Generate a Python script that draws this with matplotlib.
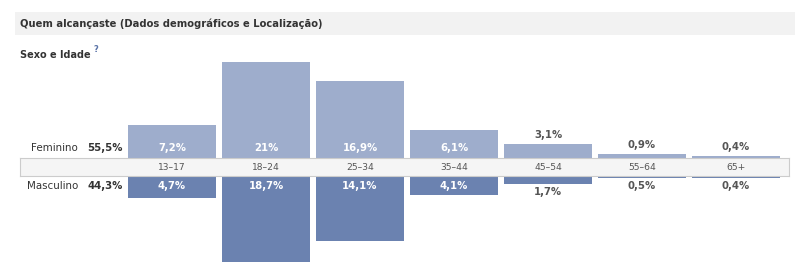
import matplotlib.pyplot as plt
from matplotlib.patches import Rectangle

# --- data ---
ages = ['13-17', '18-24', '25-34', '35-44', '45-54', '55-64', '65+']
female = [7.2, 21.0, 16.9, 6.1, 3.1, 0.9, 0.4]
male = [4.7, 18.7, 14.1, 4.1, 1.7, 0.5, 0.4]
female_total = '55,5%'
male_total = '44,3%'

F_COLOR = '#9eadcc'
M_COLOR = '#6b82b0'
TXT = '#333333'
LBL = '#555555'

W, H = 805, 279
fig = plt.figure(figsize=(W / 100, H / 100), dpi=100)
plt.rcParams['font.family'] = ['DejaVu Sans']


def fx(px):
    return px / W


def fy(py):
    return 1 - py / H


def pct(v):
    s = f'{v:.1f}'.replace('.', ',')
    if s.endswith(',0'):
        s = s[:-2]
    return s + '%'


# header band
fig.patches.append(Rectangle((fx(15), fy(35)), fx(795) - fx(15), fy(12) - fy(35),
                             transform=fig.transFigure, facecolor='#f2f2f2',
                             edgecolor='none', zorder=0))
fig.text(fx(20), fy(24), 'Quem alcançaste (Dados demográficos e Localização)',
         fontsize=7.2, fontweight='bold', color=TXT, va='center', ha='left')
fig.text(fx(20), fy(55), 'Sexo e Idade', fontsize=7.0, fontweight='bold',
         color=TXT, va='center', ha='left')
fig.text(fx(93), fy(49), '?', fontsize=6.0, fontweight='bold', color='#5b74a8',
         va='center', ha='left')

# geometry: 94 px per category, ~4.6 px per percent
step = 94.0
scale = 4.58
x_left = 125
band_top, band_bot = 158, 176
top_max, bot_max = 23, 20

ax_f = fig.add_axes([fx(x_left), fy(band_top), 7 * step / W, top_max * scale / H])
ax_m = fig.add_axes([fx(x_left), fy(band_bot + bot_max * scale), 7 * step / W,
                     bot_max * scale / H])
for ax in (ax_f, ax_m):
    ax.set_xlim(-0.5, 6.5)
    ax.axis('off')
ax_f.set_ylim(0, top_max)
ax_m.set_ylim(bot_max, 0)

xs = range(len(ages))
bw = 88 / step
ax_f.bar(xs, female, width=bw, color=F_COLOR, zorder=2)
ax_m.bar(xs, male, width=bw, color=M_COLOR, zorder=2)

inside_min = 4.0
off = 10 / scale
for i, v in enumerate(female):
    if v >= inside_min:
        ax_f.text(i, off, pct(v), ha='center', va='center', color='white',
                  fontsize=7.3, fontweight='bold', zorder=3)
    else:
        ax_f.text(i, v + 9 / scale, pct(v), ha='center', va='center', color=LBL,
                  fontsize=7.3, fontweight='bold', zorder=3)
for i, v in enumerate(male):
    if v >= inside_min:
        ax_m.text(i, off, pct(v), ha='center', va='center', color='white',
                  fontsize=7.3, fontweight='bold', zorder=3)
    else:
        ax_m.text(i, max(v + 8 / scale, off), pct(v), ha='center', va='center',
                  color=LBL, fontsize=7.3, fontweight='bold', zorder=3)

# age band
band_l, band_r = 20, 789
ax_b = fig.add_axes([fx(band_l), fy(band_bot), (band_r - band_l) / W,
                     (band_bot - band_top) / H])
ax_b.set_xlim(-0.5 - (x_left - band_l) / step, -0.5 + (band_r - x_left) / step)
ax_b.set_ylim(0, 1)
ax_b.set_facecolor('#f5f5f5')
ax_b.set_xticks([])
ax_b.set_yticks([])
for sp in ax_b.spines.values():
    sp.set_color('#cccccc')
    sp.set_linewidth(0.8)
for i, a in enumerate(ages):
    ax_b.text(i, 0.5, a.replace('-', '–'), ha='center', va='center',
              fontsize=6.6, color=LBL)

# left gender labels
fig.text(fx(78), fy(148), 'Feminino', ha='right', va='center', fontsize=7.4, color=TXT)
fig.text(fx(87), fy(148), female_total, ha='left', va='center', fontsize=7.3,
         fontweight='bold', color=TXT)
fig.text(fx(78), fy(186), 'Masculino', ha='right', va='center', fontsize=7.4, color=TXT)
fig.text(fx(87), fy(186), male_total, ha='left', va='center', fontsize=7.3,
         fontweight='bold', color=TXT)

fig.savefig('out.png', dpi=100, facecolor='white')
